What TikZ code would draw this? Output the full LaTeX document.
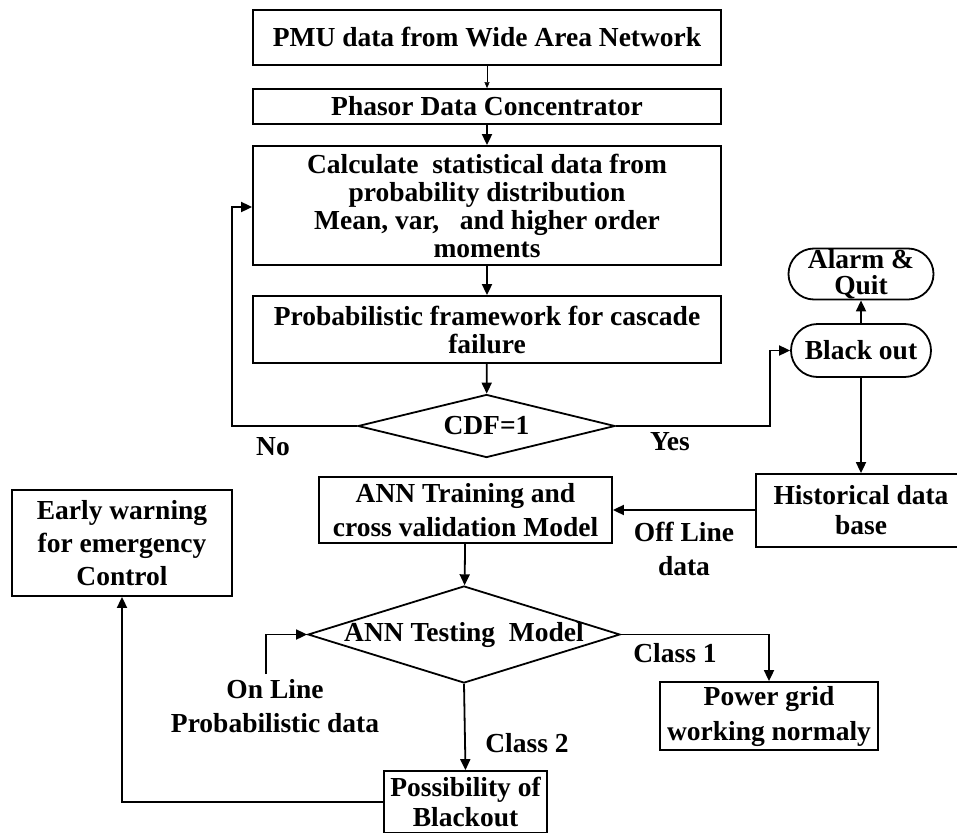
\documentclass[tikz,border=0pt]{standalone}
\usepackage{fontspec}
\setmainfont{Liberation Serif}
\usetikzlibrary{arrows.meta}
\usetikzlibrary{shapes.geometric}
\usetikzlibrary{shapes.misc}

\tikzset{
  box/.style={
    rectangle,
    draw,
    line width=1.8pt,
    inner sep=0pt,
    align=center,
    font=\bfseries\fontsize{27.5}{28}\selectfont,
  },
  decision/.style={
    diamond,
    draw,
    line width=1.8pt,
    inner sep=0pt,
    align=center,
    font=\bfseries\fontsize{27.5}{28}\selectfont,
  },
  terminal/.style={
    rounded rectangle,
    draw,
    line width=1.8pt,
    inner sep=0pt,
    align=center,
    font=\bfseries\fontsize{27.5}{26}\selectfont,
  },
  tag/.style={
    align=center,
    inner sep=0pt,
    font=\bfseries\fontsize{27.5}{34}\selectfont,
  },
  flow/.style={
    line width=1.8pt,
    -{Triangle[length=11pt,width=10pt]},
  },
}

\begin{document}
\begin{tikzpicture}[x=1pt,y=-1pt]
  \useasboundingbox (0,0) rectangle (957,832);

  \node[box,minimum width=468pt,minimum height=55pt] (pmu) at (487,37.5)
    {PMU data from Wide Area Network};
  \node[box,minimum width=468pt,minimum height=35pt] (pdc) at (487,106.5)
    {Phasor Data Concentrator};
  \node[box,minimum width=468pt,minimum height=119pt] (calc) at (487,205.5)
    {Calculate\ \ statistical data from\\probability distribution\\
     Mean, var,\ \ \ and higher order\\moments};
  \node[box,minimum width=468pt,minimum height=67pt] (frame) at (487,329.5)
    {Probabilistic framework for cascade\\failure};

  \node[decision,aspect=4.08,minimum width=257pt,minimum height=63pt] (cdf) at (486.5,426)
    {CDF=1};

  \node[terminal,minimum width=140pt,minimum height=53pt] (blackout) at (861,350.5)
    {Black out};
  \node[terminal,minimum width=124pt,minimum height=51pt] (alarm) at (861,274)
    {Alarm \&\\Quit};

  \node[box,minimum width=210pt,minimum height=73pt,
    font=\bfseries\fontsize{27.5}{30}\selectfont] (hist) at (861,510.5)
    {Historical data\\base};
  \node[box,minimum width=293pt,minimum height=66pt,
    font=\bfseries\fontsize{27.5}{34}\selectfont] (train) at (465.5,510)
    {ANN Training and\\cross validation Model};

  \node[decision,aspect=3.2,inner xsep=-20pt,minimum width=312pt,minimum height=97pt] (test) at (464,634.5)
    {ANN Testing\ \ Model};

  \node[box,minimum width=218pt,minimum height=68pt,
    font=\bfseries\fontsize{27.5}{35}\selectfont] (grid) at (769,716)
    {Power grid\\working normaly};
  \node[box,minimum width=163pt,minimum height=62pt,
    font=\bfseries\fontsize{27.5}{30}\selectfont] (poss) at (465.5,802)
    {Possibility of\\Blackout};
  \node[box,minimum width=220pt,minimum height=106pt,
    font=\bfseries\fontsize{27.5}{33}\selectfont] (warn) at (122,543)
    {Early warning\\for emergency\\Control};

  % labels
  \node[tag] (no) at (273,447) {No};
  \node[tag] (yes) at (670,442) {Yes};
  \node[tag] (offline) at (684,549) {Off Line\\data};
  \node[tag] (online) at (275,706) {On Line\\Probabilistic data};
  \node[tag] (class1) at (675,653) {Class 1};
  \node[tag] (class2) at (527,743) {Class 2};

  \coordinate (src) at (266,674);

  \draw[line width=0.4pt,-{Triangle[length=6pt,width=5pt]}] (pmu) -- (pdc);
  \draw[flow] (pdc) -- (calc);
  \draw[flow] (calc) -- (frame);
  \draw[flow] (frame) -- (cdf);
  \draw[flow] (cdf.west) -- (232,426) |- (calc.west |- 0,207);
  \draw[flow] (cdf.east) -- (770,426) |- (blackout.west);
  \draw[flow] (blackout) -- (alarm);
  \draw[flow] (blackout) -- (hist);
  \draw[flow] (hist.west |- 0,510) -- (train.east |- 0,510);
  \draw[flow] (train) -- (test);
  \draw[flow] (src) |- (test.west);
  \draw[flow] (test.east) -| (grid.north);
  \draw[flow] (test.south) -- (poss.north);
  \draw[flow] (poss.west |- 0,802) -| (warn.south);
\end{tikzpicture}
\end{document}
